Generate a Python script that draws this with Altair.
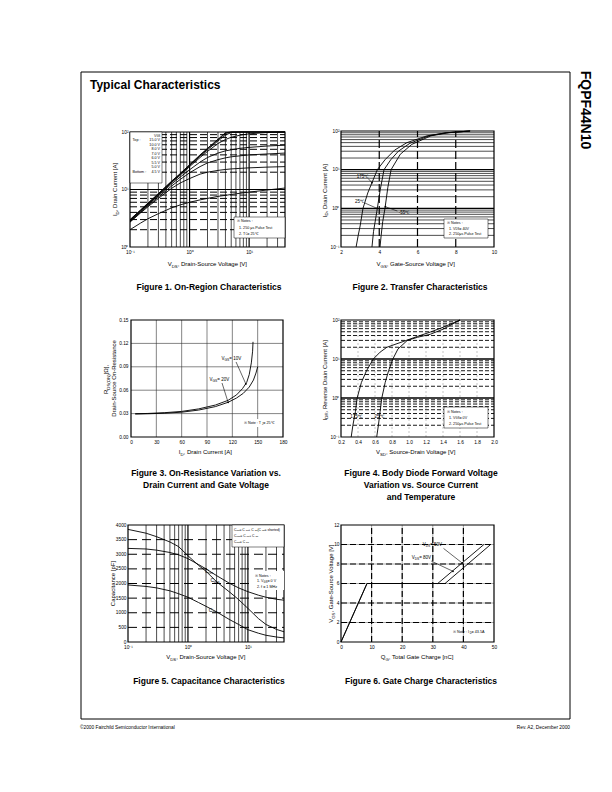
import re
import altair as alt
import pandas as pd

FONT = "Liberation Sans"
PAGE_W, PAGE_H = 612, 792

# ---------------- Figure 1: On-Region Characteristics ----------------
f1_vds = [0.1, 0.15, 0.2, 0.3, 0.5, 0.7, 1, 1.5, 2, 3, 4, 5, 7, 10, 20, 40]
f1_id_15v = [3.0, 4.4, 5.8, 8.5, 14, 19, 27, 40, 52, 75, 97, 100, 100, 100, 100, 100]
f1_id_10v = [2.95, 4.35, 5.7, 8.4, 13.8, 18.7, 26.5, 39, 51, 73, 94, 100, 100, 100, 100, 100]
f1_id_8v = [2.9, 4.3, 5.6, 8.2, 13.5, 18.3, 26, 38, 49, 70, 88, 98, 100, 100, 100, 100]
f1_id_7v = [2.85, 4.2, 5.5, 8.0, 13.2, 17.8, 25, 36, 46, 63, 74, 81, 88, 93, 98, 100]
f1_id_6v = [2.8, 4.1, 5.4, 7.8, 12.5, 16.5, 22, 30, 36, 43, 47, 49, 52, 54, 57, 59]
f1_id_55v = [2.75, 4.0, 5.2, 7.4, 11.5, 15, 19.5, 25, 29, 33, 35.5, 37, 38.5, 40, 41.5, 43]
f1_id_5v = [2.7, 3.9, 5.0, 7.0, 10.5, 13, 15.5, 18.5, 20, 21.5, 22.3, 22.8, 23.3, 23.8, 24.5, 25]
f1_id_45v = [2.0, 2.6, 3.1, 3.8, 4.8, 5.4, 6.0, 6.6, 7.0, 7.6, 7.9, 8.2, 8.6, 9.0, 9.8, 10.6]
f1_vgs_labels = ["15.0 V", "10.0 V", "8.0 V", "7.0 V", "6.0 V", "5.5 V", "5.0 V", "4.5 V"]

# ---------------- Figure 2: Transfer Characteristics ----------------
f2_vgs_175 = [2.79, 2.9, 3.0, 3.15, 3.4, 3.65, 3.9, 4.3, 4.8, 5.45, 6.5, 7.5, 8.75]
f2_id_175 = [0.1, 0.2, 0.35, 1.0, 2.5, 5, 10, 18, 32, 50, 75, 90, 100]
f2_vgs_25 = [3.62, 3.7, 3.8, 3.9, 4.05, 4.25, 4.6, 5.0, 5.6, 6.6, 7.5, 8.75]
f2_id_25 = [0.1, 0.25, 0.5, 1.0, 3, 10, 18, 30, 48, 75, 90, 100]
f2_vgs_m55 = [4.04, 4.1, 4.18, 4.3, 4.45, 4.62, 5.1, 5.7, 6.7, 7.6, 8.75]
f2_id_m55 = [0.1, 0.2, 0.45, 1.0, 3.5, 10, 25, 45, 75, 90, 100]

# ---------------- Figure 3: On-Resistance ----------------
f3_id_20v = [5, 20, 40, 60, 80, 100, 115, 125, 133, 140, 145, 148, 150]
f3_r_20v = [0.0295, 0.0298, 0.0305, 0.0318, 0.0345, 0.0390, 0.0445, 0.0500, 0.0560, 0.0640, 0.0730, 0.0820, 0.0900]
f3_id_10v = [5, 20, 40, 60, 80, 100, 115, 125, 132, 137, 140, 142.5, 144, 144.5]
f3_r_10v = [0.0298, 0.0302, 0.0312, 0.0328, 0.0360, 0.0410, 0.0470, 0.0540, 0.0620, 0.0700, 0.0800, 0.0950, 0.1100, 0.1220]

# ---------------- Figure 4: Body Diode ----------------
f4_vsd_175 = [0.32, 0.34, 0.37, 0.39, 0.44, 0.5, 0.58, 0.66, 0.74, 0.93, 1.1, 1.25, 1.4, 1.6]
f4_i_175 = [0.1, 0.2, 0.45, 1.0, 2.5, 5, 10, 15, 20, 28, 38, 49, 65, 100]
f4_vsd_25 = [0.62, 0.64, 0.66, 0.68, 0.72, 0.76, 0.81, 0.87, 0.98, 1.1, 1.25, 1.4, 1.6]
f4_i_25 = [0.1, 0.2, 0.45, 1.0, 2.5, 5, 10, 18, 30, 36, 43, 58, 100]

# ---------------- Figure 5: Capacitance ----------------
f5_vds = [0.1, 0.2, 0.3, 0.5, 0.7, 1, 1.5, 2, 3, 5, 7, 10, 15, 20, 30, 40]
f5_ciss = [3200, 3180, 3140, 3060, 2980, 2850, 2650, 2500, 2270, 2000, 1850, 1720, 1600, 1530, 1460, 1430]
f5_coss = [3850, 3720, 3600, 3420, 3260, 2950, 2620, 2420, 2060, 1700, 1450, 1150, 800, 600, 430, 350]
f5_crss = [1950, 1900, 1850, 1750, 1650, 1530, 1350, 1220, 1030, 760, 600, 420, 300, 230, 170, 140]

# ---------------- Figure 6: Gate Charge ----------------
f6_q_50v = [0, 8.5, 31.6, 46.7]
f6_v_50v = [0, 6, 6, 10]
f6_q_80v = [0, 8.5, 34.0, 48.9]
f6_v_80v = [0, 6, 6, 10]

# ---------------- grid / tick values ----------------
log_minor_a = [0.2, 0.3, 0.4, 0.5, 0.6, 0.7, 0.8, 0.9, 2, 3, 4, 5, 6, 7, 8, 9, 20, 30]
log_major_a = [1, 10]
log_minor_i1 = [2, 3, 4, 5, 6, 7, 8, 9, 20, 30, 40, 50, 60, 70, 80, 90]
log_major_i1 = [10]
log_minor_i2 = [0.2, 0.3, 0.4, 0.5, 0.6, 0.7, 0.8, 0.9, 2, 3, 4, 5, 6, 7, 8, 9, 20, 30, 40, 50, 60, 70, 80, 90]
log_major_i2 = [1, 10]
ticks_log_x = [0.1, 1, 10]
ticks_f1_y = [1, 10, 100]
ticks_log_y = [0.1, 1, 10, 100]
ticks_f2_x = [2, 4, 6, 8, 10]
ticks_f3_x = [0, 30, 60, 90, 120, 150, 180]
ticks_f3_y = [0.0, 0.03, 0.06, 0.09, 0.12, 0.15]
ticks_f4_x = [0.2, 0.4, 0.6, 0.8, 1.0, 1.2, 1.4, 1.6, 1.8, 2.0]
ticks_f5_y = [0, 500, 1000, 1500, 2000, 2500, 3000, 3500, 4000]
ticks_f6_x = [0, 10, 20, 30, 40, 50]
ticks_f6_y = [0, 2, 4, 6, 8, 10, 12]

LOG_EXPR = ("datum.value < 0.5 ? '10\u207b\u00b9' : datum.value < 5 ? '10\u2070' : "
            "datum.value < 50 ? '10\u00b9' : '10\u00b2'")

ONE = alt.Data(values=[{"k": 0}])
LS = 4.8   # tick label font size

# Arial / Liberation Sans advance widths (1/1000 em) for composing subscripts
AW = {" ": 278, "!": 278, "(": 333, ")": 333, ",": 278, "-": 333, ".": 278, "/": 278,
      ":": 278, "=": 584, "+": 584, "[": 278, "]": 278, "\u03a9": 768, "\u03bc": 576,
      "\u2103": 1000, "\u203b": 1000}
for ch in "0123456789":
    AW[ch] = 556
AW.update({"A": 667, "B": 667, "C": 722, "D": 722, "E": 667, "F": 611, "G": 778, "H": 722,
           "I": 278, "J": 500, "K": 667, "L": 556, "M": 833, "N": 722, "O": 778, "P": 667,
           "Q": 778, "R": 722, "S": 667, "T": 611, "U": 722, "V": 667, "W": 944, "X": 667,
           "Y": 667, "Z": 611, "a": 556, "b": 556, "c": 500, "d": 556, "e": 556, "f": 278,
           "g": 556, "h": 556, "i": 222, "j": 222, "k": 500, "l": 222, "m": 833, "n": 556,
           "o": 556, "p": 556, "q": 556, "r": 333, "s": 500, "t": 278, "u": 556, "v": 500,
           "w": 722, "x": 500, "y": 500, "z": 500})


def sc(dom, rng, log):
    if log:
        return alt.Scale(type="log", domain=dom, range=rng, nice=False)
    return alt.Scale(type="linear", domain=dom, range=rng, nice=False, zero=False)


def xaxis(px, values, fmt=None, expr=None):
    kw = dict(orient="bottom", offset=px - PAGE_H, values=values, title=None,
              grid=False, ticks=False, domain=False, labelFont=FONT, labelFontSize=LS,
              labelColor="black", labelPadding=2, labelFlush=False, labelOverlap=False)
    if fmt:
        kw["format"] = fmt
    if expr:
        kw["labelExpr"] = expr
    return alt.Axis(**kw)


def yaxis(px, values, fmt=None, expr=None, pad=2):
    kw = dict(orient="left", offset=-px, values=values, title=None,
              grid=False, ticks=False, domain=False, labelFont=FONT, labelFontSize=LS,
              labelColor="black", labelPadding=pad, labelFlush=False, labelOverlap=False)
    if fmt:
        kw["format"] = fmt
    if expr:
        kw["labelExpr"] = expr
    return alt.Axis(**kw)


class Panel:
    def __init__(self, xdom, xrng, xlog, ydom, yrng, ylog):
        self.xdom, self.xrng, self.xlog = xdom, xrng, xlog
        self.ydom, self.yrng, self.ylog = ydom, yrng, ylog

    def X(self, f, axis=None):
        return alt.X(f, type="quantitative", scale=sc(self.xdom, self.xrng, self.xlog), axis=axis)

    def Y(self, f, axis=None):
        return alt.Y(f, type="quantitative", scale=sc(self.ydom, self.yrng, self.ylog), axis=axis)

    def vgrid(self, values, sw=0.8, dash=None, color="black"):
        df = pd.DataFrame({"v": values})
        df["lo"] = self.ydom[0]
        df["hi"] = self.ydom[1]
        mk = dict(color=color, strokeWidth=sw)
        if dash:
            mk["strokeDash"] = dash
        return alt.Chart(df).mark_rule(**mk).encode(x=self.X("v"), y=self.Y("lo"), y2=alt.Y2("hi"))

    def hgrid(self, values, sw=0.8, dash=None, color="black"):
        df = pd.DataFrame({"v": values})
        df["lo"] = self.xdom[0]
        df["hi"] = self.xdom[1]
        mk = dict(color=color, strokeWidth=sw)
        if dash:
            mk["strokeDash"] = dash
        return alt.Chart(df).mark_rule(**mk).encode(y=self.Y("v"), x=self.X("lo"), x2=alt.X2("hi"))

    def frame(self, sw=1.2):
        df = pd.DataFrame({"x0": [self.xdom[0]], "x1": [self.xdom[1]],
                           "y0": [self.ydom[0]], "y1": [self.ydom[1]]})
        return alt.Chart(df).mark_rect(fillOpacity=0, stroke="black", strokeWidth=sw).encode(
            x=self.X("x0"), x2=alt.X2("x1"), y=self.Y("y0"), y2=alt.Y2("y1"))

    def lines(self, series, xax, yax, sw=0.9):
        rows = []
        for name, xs, ys in series:
            for i, (a, b) in enumerate(zip(xs, ys)):
                rows.append({"s": name, "i": i, "x": a, "y": b})
        df = pd.DataFrame(rows)
        return alt.Chart(df).mark_line(color="black", strokeWidth=sw).encode(
            x=self.X("x", xax), y=self.Y("y", yax), detail="s:N", order="i:Q")

    def arrows(self, x, y, x2, y2, sw=0.6):
        df = pd.DataFrame({"x": x, "y": y, "x2": x2, "y2": y2})
        rule = alt.Chart(df).mark_rule(color="black", strokeWidth=sw).encode(
            x=self.X("x"), y=self.Y("y"), x2=alt.X2("x2"), y2=alt.Y2("y2"))
        tip = alt.Chart(df).mark_point(filled=True, color="black", size=3, opacity=1).encode(
            x=self.X("x2"), y=self.Y("y2"))
        return [rule, tip]


def ptext(s, x, y, size, bold=False, align="left", angle=0, baseline="middle"):
    kw = dict(text=s, font=FONT, fontSize=size, align=align, baseline=baseline, color="black")
    if bold:
        kw["fontWeight"] = "bold"
    if angle:
        kw["angle"] = angle
    return alt.Chart(ONE).mark_text(**kw).encode(x=alt.value(x), y=alt.value(y))


def rich(markup, x, y, size, align="left", angle=0):
    """Text with _{subscript} parts; (x, y) is the baseline anchor."""
    segs = []
    for part in re.split(r"(_\{[^}]*\})", markup):
        if not part:
            continue
        if part.startswith("_{"):
            segs.append((part[2:-1], True))
        else:
            segs.append((part, False))
    sub = size * 0.72
    widths = [sum(AW.get(c, 556) for c in t) / 1000 * (sub if sb else size) for t, sb in segs]
    total = sum(widths)
    pos = {"left": 0, "center": -total / 2, "right": -total}[align]
    out = []
    for (t, sb), w in zip(segs, widths):
        fs = sub if sb else size
        sh = size * 0.28 if sb else 0
        if angle:
            out.append(ptext(t, x + sh, y - pos, fs, angle=270, baseline="alphabetic"))
        else:
            out.append(ptext(t, x + pos, y + sh, fs, baseline="alphabetic"))
        pos += w
    return out


def pbox(x0, y0, x1, y1, stroke=True, sw=0.5):
    kw = dict(color="white", opacity=1)
    if stroke:
        kw = dict(fill="white", stroke="black", strokeWidth=sw)
    return alt.Chart(ONE).mark_rect(**kw).encode(
        x=alt.value(x0), x2=alt.value(x1), y=alt.value(y0), y2=alt.value(y1))


layers = []

# ---- page furniture ----
layers.append(alt.Chart(ONE).mark_rect(fillOpacity=0, stroke="black", strokeWidth=1).encode(
    x=alt.value(81), x2=alt.value(570), y=alt.value(72), y2=alt.value(719)))
layers.append(ptext("Typical Characteristics", 90, 85, 12, bold=True))
layers.append(ptext("FQPF44N10", 585, 110, 14, bold=True, align="center", angle=90))
layers.append(ptext("\u00a92000 Fairchild Semiconductor International", 80, 728, 4.8))
layers.append(ptext("Rev. A2, December 2000", 570, 728, 4.8, align="right"))
CAP = 8.5
layers.append(ptext("Figure 1. On-Region Characteristics", 209, 287, CAP, True, "center"))
layers.append(ptext("Figure 2. Transfer Characteristics", 420, 287, CAP, True, "center"))
layers.append(ptext("Figure 3. On-Resistance Variation vs.", 206, 473, CAP, True, "center"))
layers.append(ptext("Drain Current and Gate Voltage", 206, 485, CAP, True, "center"))
layers.append(ptext("Figure 4. Body Diode Forward Voltage", 421, 473, CAP, True, "center"))
layers.append(ptext("Variation vs. Source Current", 421, 485, CAP, True, "center"))
layers.append(ptext("and Temperature", 421, 497, CAP, True, "center"))
layers.append(ptext("Figure 5. Capacitance Characteristics", 209, 681, CAP, True, "center"))
layers.append(ptext("Figure 6. Gate Charge Characteristics", 421, 681, CAP, True, "center"))

NS = 3.7   # note font size
TS = 6.0   # axis title font size

# ---- Figure 1 ----
p1 = Panel([0.1, 40], [130, 285], True, [1, 100], [247, 132], True)
layers += [
    p1.vgrid(log_minor_a, 0.7),
    p1.vgrid(log_major_a, 1.2),
    p1.hgrid(log_minor_i1, 1.0, dash=[7, 3]),
    p1.hgrid(log_major_i1, 1.2),
    p1.lines([("15.0", f1_vds, f1_id_15v), ("10.0", f1_vds, f1_id_10v), ("8.0", f1_vds, f1_id_8v),
              ("7.0", f1_vds, f1_id_7v), ("6.0", f1_vds, f1_id_6v), ("5.5", f1_vds, f1_id_55v),
              ("5.0", f1_vds, f1_id_5v), ("4.5", f1_vds, f1_id_45v)],
             xaxis(247, ticks_log_x, expr=LOG_EXPR),
             yaxis(130, ticks_f1_y, expr=LOG_EXPR)),
    p1.frame(),
    pbox(130, 132, 162, 183),
    ptext("Top :", 132.5, 140, NS),
    ptext("Bottom :", 132.5, 171.5, NS),
    pbox(234, 217, 285, 238),
    ptext("\u203b Notes :", 237, 221, NS),
    ptext("1. 250 \u03bcs Pulse Test", 239, 227.5, NS),
]
layers += rich("V_{GS}", 154, 136.8, NS)
layers += rich("2. T_{C} = 25\u2103", 239, 234.8, NS)
for k, lab in enumerate(f1_vgs_labels):
    layers.append(ptext(lab, 160, 140 + 4.5 * k, NS, align="right"))
layers += rich("V_{DS}, Drain-Source Voltage [V]", 207.5, 266, TS, align="center")
layers += rich("I_{D}, Drain Current [A]", 117, 189.5, TS, align="center", angle=270)

# ---- Figure 2 ----
p2 = Panel([2, 10], [341, 494], False, [0.1, 100], [247, 131], True)
layers += [
    p2.hgrid(log_minor_i2, 0.7),
    p2.hgrid(log_major_i2, 1.3),
    p2.vgrid([4, 6, 8], 1.2, dash=[8, 3]),
    p2.lines([("175", f2_vgs_175, f2_id_175), ("25", f2_vgs_25, f2_id_25), ("-55", f2_vgs_m55, f2_id_m55)],
             xaxis(247, ticks_f2_x),
             yaxis(341, ticks_log_y, expr=LOG_EXPR)),
    p2.frame(),
]
layers += p2.arrows([3.42, 3.25, 4.95], [5.9, 1.37, 0.85], [3.62, 3.88, 4.32], [4.6, 1.0, 1.1])
layers += [
    ptext("175\u2103", 362.5, 177, 4.5, align="center"),
    ptext("25\u2103", 359.5, 201.5, 4.5, align="center"),
    ptext("-55\u2103", 404, 213, 4.5, align="center"),
    pbox(444, 219, 488, 238),
    ptext("\u203b Notes :", 447, 222.5, NS),
    ptext("2. 250\u03bcs Pulse Test", 449, 234, NS),
]
layers += rich("1. V_{DS} = 40V", 449, 229.8, NS)
layers += rich("V_{GS} , Gate-Source Voltage  [V]", 417.5, 266, TS, align="center")
layers += rich("I_{D} , Drain Current  [A]", 326.5, 189, TS, align="center", angle=270)

# ---- Figure 3 ----
p3 = Panel([0, 180], [131, 283], False, [0, 0.15], [437, 320], False)
layers += [
    p3.vgrid([30, 60, 90, 120, 150], 0.6, color="#333333"),
    p3.hgrid([0.03, 0.06, 0.09, 0.12], 0.6, color="#333333"),
    p3.lines([("20V", f3_id_20v, f3_r_20v), ("10V", f3_id_10v, f3_r_10v)],
             xaxis(437, ticks_f3_x),
             yaxis(131, ticks_f3_y, fmt=".2f", pad=3)),
    p3.frame(),
]
layers += p3.arrows([124.4, 107.8], [0.0962, 0.0692], [136, 115], [0.068, 0.0445])
layers += rich("V_{GS} = 10V", 232, 359.6, 4.5, align="center")
layers += rich("V_{GS} = 20V", 220, 380.6, 4.5, align="center")
layers.append(pbox(242, 419, 282, 427, stroke=False))
layers += rich("\u203b Note : T_{J} = 25\u2103", 244, 424.3, NS)
layers += rich("I_{D} , Drain Current  [A]", 207, 454, TS, align="center")
layers += rich("R_{DS(ON)} [\u03a9],", 108, 378.5, TS, align="center", angle=270)
layers += rich("Drain-Source On-Resistance", 115.5, 378.5, TS, align="center", angle=270)

# ---- Figure 4 ----
p4 = Panel([0.2, 2.0], [341, 494], False, [0.1, 100], [437, 320], True)
layers += [
    p4.vgrid([0.4, 0.6, 0.8, 1.0, 1.2, 1.4, 1.6, 1.8], 0.5, dash=[2, 2], color="#888888"),
    p4.hgrid(log_minor_i2, 0.9, dash=[4, 2]),
    p4.hgrid(log_major_i2, 1.3),
    p4.lines([("175", f4_vsd_175, f4_i_175), ("25", f4_vsd_25, f4_i_25)],
             xaxis(437, ticks_f4_x, fmt=".1f"),
             yaxis(341, ticks_log_y, expr=LOG_EXPR)),
    p4.frame(),
    ptext("175\u2103", 356, 417, 4.5, align="center"),
    ptext("25\u2103", 379, 417, 4.5, align="center"),
    pbox(444, 407, 488, 428),
    ptext("\u203b Notes :", 447, 411.5, NS),
    ptext("2. 250\u03bcs Pulse Test", 449, 423.5, NS),
]
layers += rich("1. V_{GS} = 0V", 449, 418.8, NS)
layers += rich("V_{SD} , Source-Drain Voltage  [V]", 417.5, 454, TS, align="center")
layers += rich("I_{DR} , Reverse Drain Current  [A]", 326.5, 378.5, TS, align="center", angle=270)

# ---- Figure 5 ----
p5 = Panel([0.1, 40], [128, 284], True, [0, 4000], [642, 525], False)
layers += [
    p5.vgrid(log_minor_a, 0.7),
    p5.vgrid(log_major_a, 1.2),
    p5.hgrid([500, 1000, 1500, 2000, 2500, 3000, 3500], 1.0, dash=[9, 5]),
    p5.lines([("Ciss", f5_vds, f5_ciss), ("Coss", f5_vds, f5_coss), ("Crss", f5_vds, f5_crss)],
             xaxis(642, ticks_log_x, expr=LOG_EXPR),
             yaxis(128, ticks_f5_y, fmt="d")),
    p5.frame(),
    pbox(232, 525, 284, 547),
    pbox(252, 571, 284, 590, stroke=False),
    ptext("\u203b Notes :", 255, 575.5, NS),
    ptext("2. f = 1 MHz", 257, 586.5, NS),
]
layers += rich("C_{iss}", 209, 572.8, 5, align="center")
layers += rich("C_{oss}", 215, 581.8, 5, align="center")
layers += rich("C_{rss}", 213, 611.8, 5, align="center")
layers += rich("C_{iss} = C_{gs} + C_{gd} (C_{ds} = shorted)", 234, 530.7, 3.4)
layers += rich("C_{oss} = C_{ds} + C_{gd}", 234, 536.7, 3.4)
layers += rich("C_{rss} = C_{gd}", 234, 542.7, 3.4)
layers += rich("1. V_{GS} = 0 V", 257, 582.3, NS)
layers += rich("V_{DS}, Drain-Source Voltage [V]", 206, 659, TS, align="center")
layers += rich("Capacitance [pF]", 115, 583.5, TS, align="center", angle=270)

# ---- Figure 6 ----
p6 = Panel([0, 50], [341, 494], False, [0, 12], [642, 525], False)
layers += [
    p6.vgrid([10, 20, 30, 40], 1.0, color="#aaaaaa"),
    p6.hgrid([2, 4, 6, 8, 10], 1.0, color="#aaaaaa"),
    p6.vgrid([10, 20, 30, 40], 1.2, dash=[6, 3]),
    p6.hgrid([2, 4, 6, 8, 10], 1.2, dash=[6, 3]),
    p6.lines([("50V", f6_q_50v, f6_v_50v), ("80V", f6_q_80v, f6_v_80v)],
             xaxis(642, ticks_f6_x),
             yaxis(341, ticks_f6_y)),
    p6.frame(),
]
layers += p6.arrows([33.5, 29.5], [9.6, 8.3], [39.6, 36.6], [8.1, 7.25])
layers += rich("V_{DS} = 50V", 433, 545.6, 4.5, align="center")
layers += rich("V_{DS} = 80V", 422, 558.6, 4.5, align="center")
layers += rich("\u203b Note : I_{D} = 43.5A", 453, 633.3, NS)
layers += rich("Q_{G}, Total Gate Charge [nC]", 417.5, 659, TS, align="center")
layers += rich("V_{GS}, Gate-Source Voltage [V]", 333, 583.5, TS, align="center", angle=270)

chart = alt.layer(*layers).resolve_scale(x="independent", y="independent").properties(
    width=PAGE_W, height=PAGE_H, autosize=alt.AutoSizeParams(type="none"), padding=0,
    background="white").configure_view(strokeWidth=0)

chart.save("out.html", embed_options={"renderer": "svg", "actions": False})
